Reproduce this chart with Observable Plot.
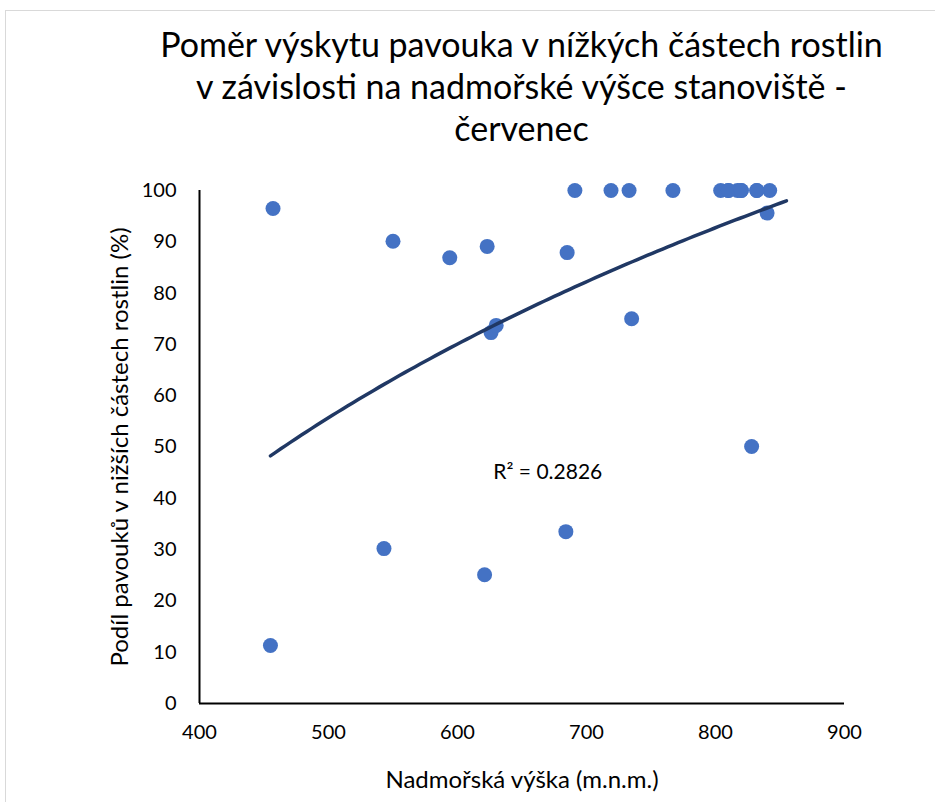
<!DOCTYPE html>
<html>
<head>
<meta charset="utf-8">
<script src="https://cdn.jsdelivr.net/npm/d3@7"></script>
<script src="https://cdn.jsdelivr.net/npm/@observablehq/plot@0.6"></script>
<style>
  html, body { margin: 0; padding: 0; background: #fff; }
  body { width: 935px; height: 802px; overflow: hidden; position: relative; font-family: Lato, "Open Sans", sans-serif; }
  #frame { position: absolute; left: 5px; top: 10px; width: 960px; height: 820px; border-top: 1px solid #d9d9d9; border-left: 1px solid #d9d9d9; }
  #title { position: absolute; left: 0; top: 23px; width: 1043px; text-align: center; font-size: 34px; line-height: 42px; color: #000; }
  #chart { position: absolute; left: 0; top: 170px; }
</style>
</head>
<body>
<div id="frame"></div>
<div id="title">Poměr výskytu pavouka v nížkých částech rostlin<br>v závislosti na nadmořské výšce stanoviště -<br>červenec</div>
<div id="chart"></div>
<script>
// Data (the last three are dots hidden under the 100 % cluster,
// inferred from the printed R² and the drawn trendline)
const elevation = [457, 455, 550, 543, 594, 623, 621, 626, 630, 685, 684, 691, 719, 733, 735, 767, 804, 810, 817, 820, 832, 842, 840, 828, 810, 820, 832];
const share     = [96.5, 11.3, 90.1, 30.2, 86.9, 89.1, 25.1, 72.3, 73.7, 87.9, 33.5, 100, 100, 100, 75.0, 100, 100, 100, 100, 100, 100, 100, 95.6, 50.1, 100, 100, 100];
const xTicks = [400, 500, 600, 700, 800, 900];
const yTicks = [0, 10, 20, 30, 40, 50, 60, 70, 80, 90, 100];
const xTitle = "Nadmořská výška (m.n.m.)";
const yTitle = "Podíl pavouků v nižších částech rostlin (%)";
const r2Label = "R² = 0.2826";
const r2Anchor = [{x: 670, y: 45}];
const trendRange = [455, 855];

const points = elevation.map((e, i) => ({x: e, y: share[i]}));

// Logarithmic least-squares trendline (y = a + b ln x), as Excel does
const lx = points.map(p => Math.log(p.x));
const mx = d3.mean(lx), my = d3.mean(points, p => p.y);
let sxy = 0, sxx = 0;
points.forEach((p, i) => { sxy += (lx[i] - mx) * (p.y - my); sxx += (lx[i] - mx) ** 2; });
const b = sxy / sxx, a = my - b * mx;
const trend = d3.range(0, 101).map(k => {
  const x = trendRange[0] + (trendRange[1] - trendRange[0]) * k / 100;
  return {x, y: a + b * Math.log(x)};
});

const chart = Plot.plot({
  width: 935,
  height: 632,
  marginLeft: 199,
  marginRight: 91,
  marginTop: 20,
  marginBottom: 99,
  style: {fontFamily: "Lato, 'Open Sans', sans-serif", fontSize: "20px", color: "#000", background: "transparent"},
  x: {domain: [400, 900]},
  y: {domain: [0, 100]},
  marks: [
    Plot.axisX({ticks: xTicks, tickSize: 0, tickPadding: 21, label: null, fontSize: 20}),
    Plot.axisY({ticks: yTicks, tickSize: 0, tickPadding: 23, label: null, fontSize: 20}),
    Plot.ruleX([400], {y1: 0, y2: 100, stroke: "#000", strokeWidth: 2}),
    Plot.ruleY([0], {x1: 400, x2: 900, stroke: "#000", strokeWidth: 2}),
    Plot.dot(points, {x: "x", y: "y", r: 7.5, fill: "#4472C4", stroke: "none"}),
    Plot.line(trend, {x: "x", y: "y", stroke: "#203864", strokeWidth: 3.5, strokeLinecap: "round", curve: "linear"}),
    Plot.text(r2Anchor, {x: "x", y: "y", text: () => r2Label, fontSize: 21, fill: "#000"}),
    Plot.text([xTitle], {frameAnchor: "bottom", dy: 77, textAnchor: "middle", lineAnchor: "middle", fontSize: 24, fill: "#000"}),
    Plot.text([yTitle], {frameAnchor: "left", dx: -79, textAnchor: "middle", lineAnchor: "middle", rotate: -90, fontSize: 24, fill: "#000"})
  ]
});
document.getElementById("chart").appendChild(chart);
</script>
</body>
</html>
